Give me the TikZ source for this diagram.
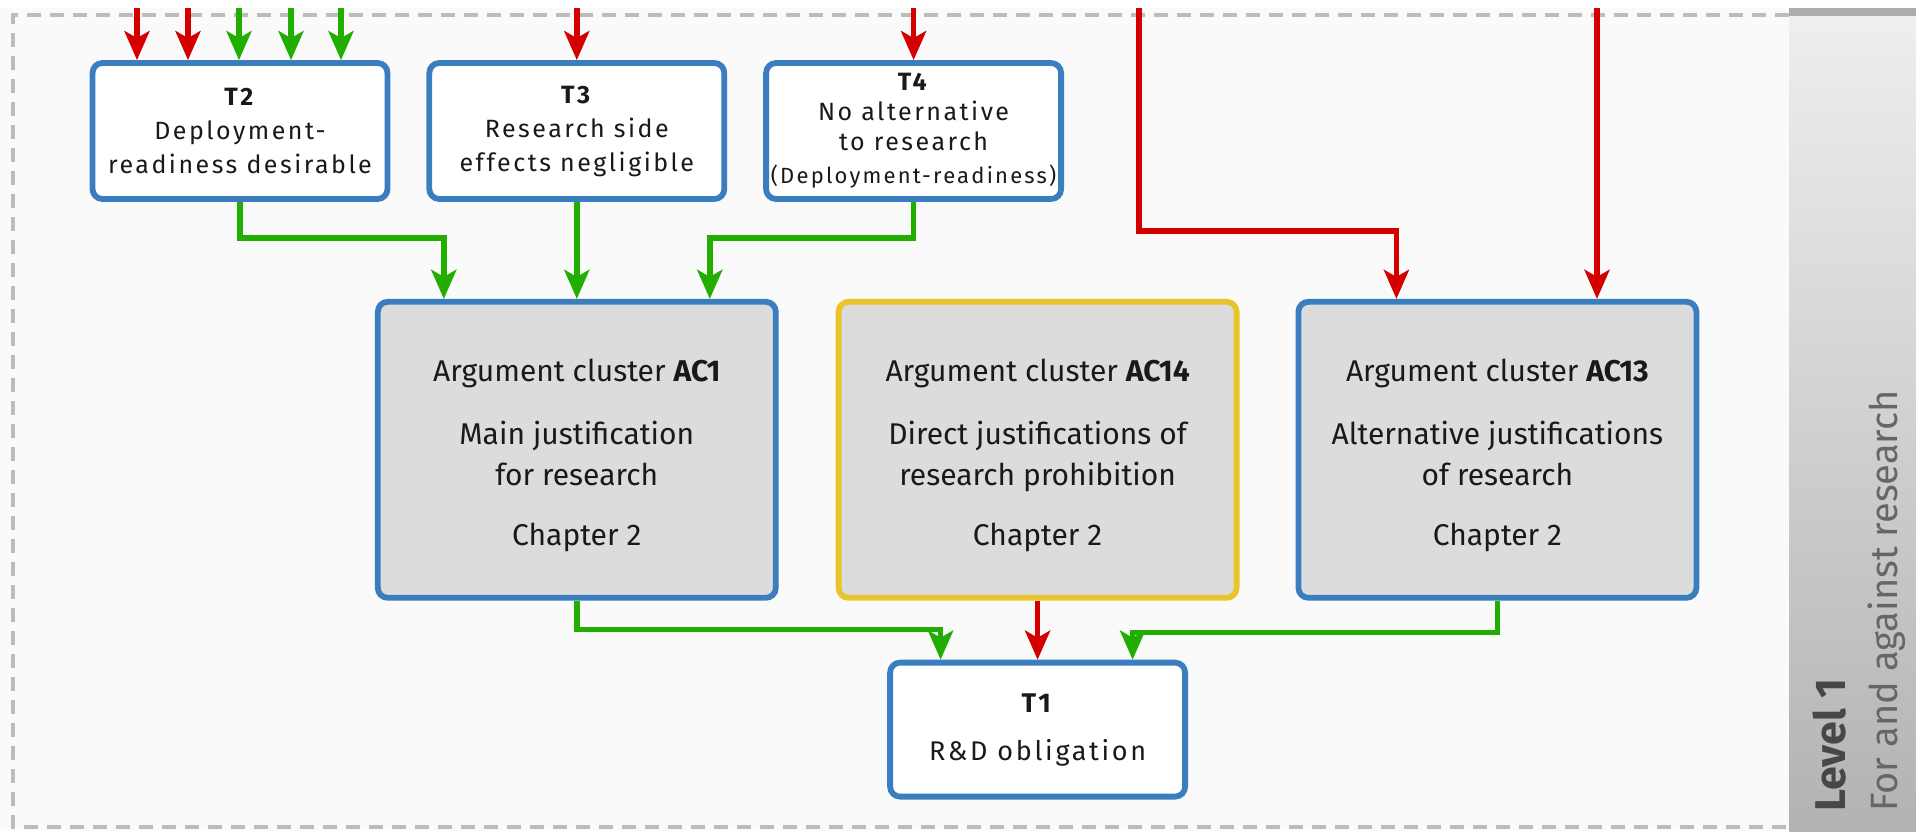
\documentclass[tikz,border=0pt]{standalone}
\usepackage{fontspec}
\setmainfont{Fira Sans}
\newfontfamily\spacedsans[LetterSpace=10]{Fira Sans}
\usetikzlibrary{arrows.meta, positioning}

\definecolor{framegray}{RGB}{188,188,188}
\definecolor{boxblue}{RGB}{58,126,192}
\definecolor{boxyellow}{RGB}{233,197,43}
\definecolor{clusterfill}{RGB}{220,220,220}
\definecolor{attackred}{RGB}{212,0,0}
\definecolor{supportgreen}{RGB}{34,174,0}
\definecolor{paper}{RGB}{250,250,250}

\begin{document}
\begin{tikzpicture}[x=0.5pt, y=-0.5pt,
		thesis/.style={rectangle, rounded corners=5pt, draw=boxblue, fill=white, line width=2.9pt, minimum width=147.5pt, minimum height=68pt, inner sep=0pt, align=center, text=black!90, font=\spacedsans\fontsize{12.5}{17}\selectfont},
		cluster/.style={thesis, fill=clusterfill, minimum width=199pt, minimum height=148pt, font=\fontsize{15}{20.5}\selectfont},
		debated/.style={cluster, draw=boxyellow},
		support/.style={draw=supportgreen, line width=2.7pt, -{Stealth[length=14.5pt, width=12.5pt, inset=3.5pt]}},
		attack/.style={support, draw=attackred},
		level/.style={rotate=90, anchor=base west, inner sep=0pt}
		]
		\useasboundingbox (0,0) rectangle (1916,831);
		\fill [paper] (0,8) rectangle (1789,831);
		\draw [framegray, line width=2pt, dash pattern=on 7pt off 4.5pt] (1789,15) -- (13,15) -- (13,827) -- (1789,827);
		\shade [top color=gray!13, bottom color=gray!60] (1789,16) rectangle (1916,831);
		\fill [gray!65] (1789,8) rectangle (1916,16);
		\node [level, font=\bfseries\fontsize{21.5}{21.5}\selectfont, text=black!72] (level number) at (1845,812) {Level 1};
		\node [level, font=\fontsize{19}{19}\selectfont, text=black!60] (level title) at (1897,812) {For and against research};
		
		\node [thesis] (T2) at (240,131) {\textbf{T2}\\Deployment-\\readiness desirable};
		\node [thesis] (T3) [right=18pt of T2] {\textbf{T3}\\Research side\\effects negligible};
		\node [thesis, font=\spacedsans\fontsize{12.5}{15}\selectfont] (T4) [right=18pt of T3] {\textbf{T4}\\No alternative\\to research\\[1.5pt]{\fontsize{11}{15}\selectfont (Deployment-readiness)}};
		\node [cluster] (AC1) [below=48.5pt of T3] {\rule{0pt}{17pt}Argument cluster \textbf{AC1}\\[11pt]Main justification\\for research\\[9.5pt]Chapter 2};
		\node [debated] (AC14) [right=28.5pt of AC1] {\rule{0pt}{17pt}Argument cluster \textbf{AC14}\\[11pt]Direct justifications of\\research prohibition\\[9.5pt]Chapter 2};
		\node [cluster] (AC13) [right=28pt of AC14] {\rule{0pt}{17pt}Argument cluster \textbf{AC13}\\[11pt]Alternative justifications\\of research\\[9.5pt]Chapter 2};
		\node [thesis, minimum height=67pt, font=\spacedsans\fontsize{13.5}{24}\selectfont] (T1) [below=29.5pt of AC14] {\textbf{T1}\\R\&D obligation};
		
		\coordinate (top) at (0,8);
		\coordinate (feed a) at (137,8);
		\coordinate (feed b) at (188,8);
		\coordinate (feed c) at (239,8);
		\coordinate (feed d) at (291,8);
		\coordinate (feed e) at (341,8);
		\coordinate (feed f) at (1139,8);
		\coordinate (feed g) at (1597,8);
		
		\draw [attack] (feed a) to (feed a |- T2.north);
		\draw [attack] (feed b) to (feed b |- T2.north);
		\draw [support] (feed c) to (feed c |- T2.north);
		\draw [support] (feed d) to (feed d |- T2.north);
		\draw [support] (feed e) to (feed e |- T2.north);
		\draw [attack] (T3.north |- top) to (T3.north);
		\draw [attack] (T4.north |- top) to (T4.north);
		\draw [attack] (feed f) -- ++(0,-111.5pt) -| ([xshift=-50.5pt]AC13.north);
		\draw [attack] (feed g) to (feed g |- AC13.north);
		
		\draw [support] (T2.south) -- ++(0,-18pt) -| ([xshift=-66.5pt]AC1.north);
		\draw [support] (T3.south) to (T3.south |- AC1.north);
		\draw [support] (T4.south) -- ++(0,-18pt) -| ([xshift=66.5pt]AC1.north);
		\draw [support] (AC1.south) -- ++(0,-14.5pt) -| ([xshift=-48.5pt]T1.north);
		\draw [attack] (AC14.south) to (T1.north);
		\draw [support] (AC13.south) -- ++(0,-16pt) -| ([xshift=47.5pt]T1.north);
	\end{tikzpicture}
\end{document}
